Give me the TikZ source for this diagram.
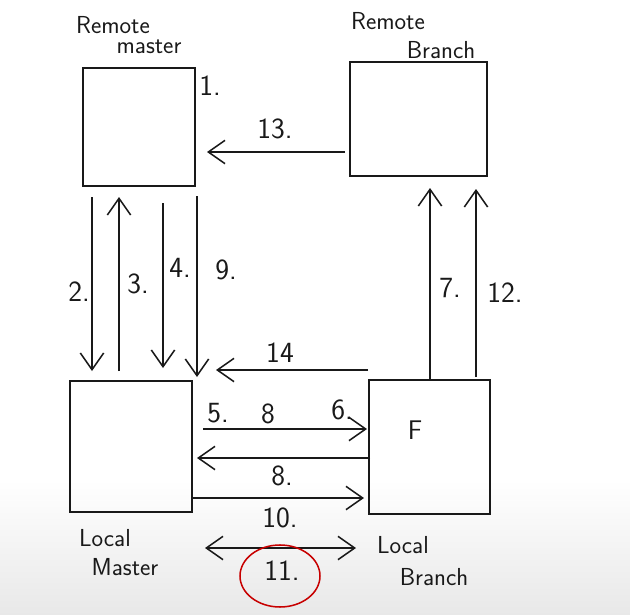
\documentclass[tikz,border=0pt]{standalone}
\usepackage{tikz}
\usetikzlibrary{arrows.meta,positioning}
\colorlet{gitink}{black!90}
\colorlet{gitred}{red!78!black}
\colorlet{gitpaper}{black!9}
\tikzset{
  gitbox/.style={draw=gitink,line width=1.3pt,inner sep=0pt},
  gitflow/.style={-{Straight Barb[length=5mm,width=7mm,line width=1.3pt]},line width=1.3pt,gitink},
  gitboth/.style={{Straight Barb[length=5mm,width=7mm,line width=1.3pt]}-{Straight Barb[length=5mm,width=7mm,line width=1.3pt]},line width=1.3pt,gitink},
  gitnum/.style={font=\sffamily\fontsize{25}{27}\selectfont,text=gitink,inner sep=1pt},
  gitname/.style={font=\sffamily\fontsize{21}{23}\selectfont,text=gitink,inner sep=1pt},
  gitmark/.style={draw=gitred,line width=1.3pt}
}
\begin{document}
\begin{tikzpicture}[x=0.03cm,y=-0.03cm]
  \useasboundingbox (0,0) rectangle (630,615);
  \shade[top color=white,bottom color=gitpaper] (0,480) rectangle (630,615);

  % the four branches
  \node[gitbox,minimum width=3.36cm,minimum height=3.54cm] (rmaster) at (139,127) {};
  \node[gitbox,minimum width=4.11cm,minimum height=3.42cm] (rbranch) at (418.5,119) {};
  \node[gitbox,minimum width=3.66cm,minimum height=3.93cm] (lmaster) at (131,446.5) {};
  \node[gitbox,minimum width=3.63cm,minimum height=4.02cm] (lbranch) at (429.5,447) {};
  \node[gitname,font=\sffamily\fontsize{23}{25}\selectfont] (lbF) at (415,430) {F};

  \node[gitname] (rmA) at (113,25) {Remote};
  \node[gitname] (rmB) at (149,47) {master};
  \node[gitname] (rbA) at (388,21) {Remote};
  \node[gitname] (rbB) at (441,50) {Branch};
  \node[gitname] (lmA) at (105,538) {Local};
  \node[gitname] (lmB) at (125,567) {Master};
  \node[gitname] (lbA) at (403,545) {Local};
  \node[gitname] (lbB) at (434,577) {Branch};

  % end points of the steps
  \coordinate (s13a) at (345,152);  \coordinate (s13b) at (207,152);
  \coordinate (s2a) at (92,197);    \coordinate (s2b) at (92,371);
  \coordinate (s3a) at (119,371);   \coordinate (s3b) at (119,197);
  \coordinate (s4a) at (163,203);   \coordinate (s4b) at (163,368);
  \coordinate (s9a) at (197,196);   \coordinate (s9b) at (197,377);
  \coordinate (s7a) at (430,380);   \coordinate (s7b) at (430,188);
  \coordinate (s12a) at (476,377);  \coordinate (s12b) at (476,189);
  \coordinate (s14a) at (368,370);  \coordinate (s14b) at (216,370);
  \coordinate (s6a) at (203,429);   \coordinate (s6b) at (367,429);
  \coordinate (s8a) at (370,458);   \coordinate (s8b) at (197,458);
  \coordinate (s10a) at (193,498);  \coordinate (s10b) at (364,498);
  \coordinate (s11a) at (205,548);  \coordinate (s11b) at (356,548);

  \draw[gitflow] (s13a) -- (s13b);
  \draw[gitflow] (s2a) -- (s2b);
  \draw[gitflow] (s3a) -- (s3b);
  \draw[gitflow] (s4a) -- (s4b);
  \draw[gitflow] (s9a) -- (s9b);
  \draw[gitflow] (s7a) -- (s7b);
  \draw[gitflow] (s12a) -- (s12b);
  \draw[gitflow] (s14a) -- (s14b);
  \draw[gitflow] (s6a) -- (s6b);
  \draw[gitflow] (s8a) -- (s8b);
  \draw[gitflow] (s10a) -- (s10b);
  \draw[gitboth] (s11a) -- (s11b);

  % step numbers
  \node[gitnum] (n1) at (210,86) {1.};
  \node[gitnum] (n13) at (275,129) {13.};
  \node[gitnum] (n2) at (79,292) {2.};
  \node[gitnum] (n3) at (138,284) {3.};
  \node[gitnum] (n4) at (180,268) {4.};
  \node[gitnum] (n9) at (226,270) {9.};
  \node[gitnum] (n7) at (450,288) {7.};
  \node[gitnum] (n12) at (505,293) {12.};
  \node[gitnum] (n14) at (280,353) {14};
  \node[gitnum] (n5) at (218,413) {5.};
  \node[gitnum] (n8a) at (268,414) {8};
  \node[gitnum] (n6) at (342,410) {6.};
  \node[gitnum] (n8b) at (282,476) {8.};
  \node[gitnum] (n10) at (280,518) {10.};
  \node[gitnum] (n11) at (282,571) {11.};
  \draw[gitmark] (280,576) ellipse [x radius=40,y radius=31];
\end{tikzpicture}
\end{document}
